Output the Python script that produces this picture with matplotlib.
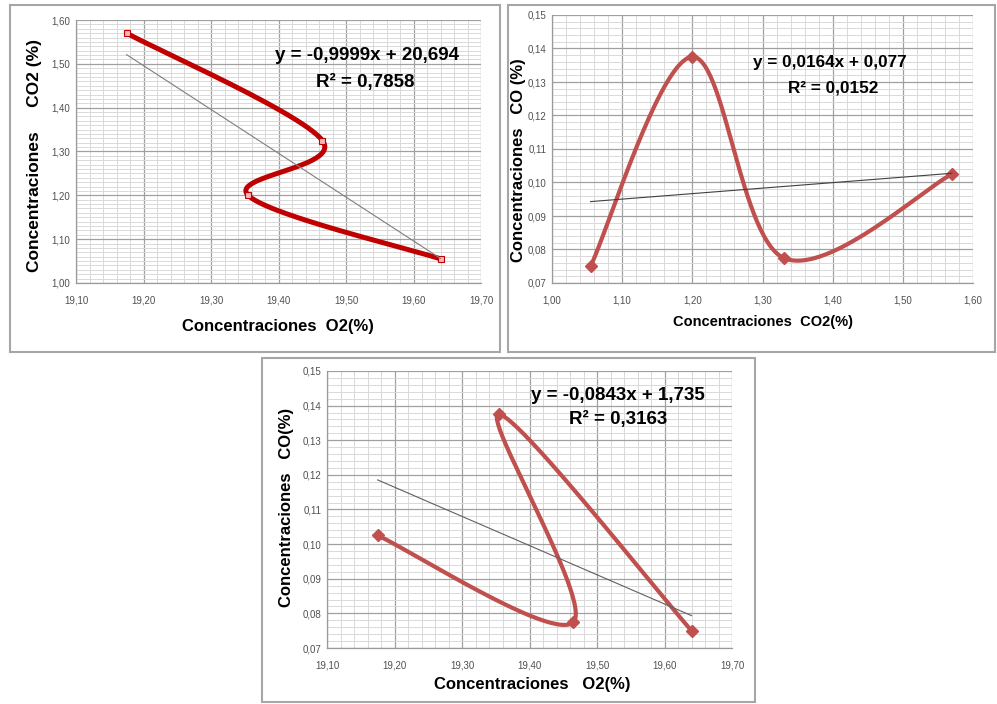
import matplotlib
matplotlib.use('Agg')
import matplotlib.pyplot as plt
from matplotlib.patches import Rectangle
from matplotlib.ticker import MultipleLocator, FuncFormatter
import numpy as np

# Measured values (same four samples in every panel)
o2 = [19.175, 19.465, 19.355, 19.64]
co2 = [1.57, 1.325, 1.20, 1.055]
co_by_o2 = [0.1025, 0.0775, 0.1375, 0.075]

co2_sorted = [1.055, 1.20, 1.33, 1.57]
co_sorted = [0.075, 0.1375, 0.0775, 0.1025]

# Trendline coefficients as shown on the chart
fit1 = (-0.9999, 20.694)
fit2 = (0.0164, 0.077)
fit3 = (-0.0843, 1.735)

eq1 = ["y = -0,9999x + 20,694", "R² = 0,7858"]
eq2 = ["y = 0,0164x + 0,077", "R² = 0,0152"]
eq3 = ["y = -0,0843x + 1,735", "R² = 0,3163"]

W, H = 997, 704
fig = plt.figure(figsize=(W / 100, H / 100), dpi=100)
fig.patch.set_facecolor('white')


def px_axes(l, t, r, b):
    return fig.add_axes([l / W, 1 - b / H, (r - l) / W, (b - t) / H])


def frame(l, t, r, b):
    fig.patches.append(Rectangle((l / W, 1 - b / H), (r - l) / W, (b - t) / H,
                                 transform=fig.transFigure, fill=False,
                                 edgecolor='#a6a6a6', linewidth=1.5))


def smooth(ax, xs, ys, n=60):
    # Excel-like smoothed line: Bezier segments built in screen space
    pts = ax.transData.transform(np.column_stack([xs, ys]))
    p = np.vstack([pts[0], pts, pts[-1]])
    out = []
    for i in range(1, len(p) - 2):
        p0, p1, p2, p3 = p[i - 1], p[i], p[i + 1], p[i + 2]
        c1 = p1 + (p2 - p0) / 6
        c2 = p2 - (p3 - p1) / 6
        t = np.linspace(0, 1, n)[:, None]
        seg = ((1 - t) ** 3 * p1 + 3 * (1 - t) ** 2 * t * c1
               + 3 * (1 - t) * t ** 2 * c2 + t ** 3 * p2)
        out.append(seg)
    out = np.vstack(out)
    return ax.transData.inverted().transform(out).T


def style(ax, xlim, ylim, xmaj, xmin, ymaj, ymin):
    ax.set_xlim(*xlim)
    ax.set_ylim(*ylim)
    ax.xaxis.set_major_locator(MultipleLocator(xmaj))
    ax.xaxis.set_minor_locator(MultipleLocator(xmin))
    ax.yaxis.set_major_locator(MultipleLocator(ymaj))
    ax.yaxis.set_minor_locator(MultipleLocator(ymin))
    fmt = FuncFormatter(lambda v, pos: f"{v:.2f}".replace('.', ','))
    ax.xaxis.set_major_formatter(fmt)
    ax.yaxis.set_major_formatter(fmt)
    ax.grid(which='major', color='#a0a0a0', linewidth=0.9)
    ax.grid(which='minor', color='#d9d9d9', linewidth=0.7)
    ax.set_axisbelow(True)
    for s in ['top', 'right']:
        ax.spines[s].set_visible(False)
    for s in ['left', 'bottom']:
        ax.spines[s].set_color('#9a9a9a')
        ax.spines[s].set_linewidth(0.9)
    ax.tick_params(which='both', length=0)
    ax.tick_params(axis='x', pad=9, labelsize=7, colors='#505050')
    ax.tick_params(axis='y', pad=4, labelsize=7, colors='#505050')
    for lab in ax.get_xticklabels() + ax.get_yticklabels():
        lab.set_family('Liberation Sans')


def label(x, y, s, rot=0, size=11):
    fig.text(x / W, 1 - y / H, s, rotation=rot, ha='center', va='center',
             fontsize=size, fontweight='bold', family='Liberation Sans')


frame(10, 5, 500, 352)
frame(508, 5, 995, 352)
frame(262, 358, 755, 702)

# Panel 1: O2 vs CO2
ax1 = px_axes(76, 20, 481, 283)
style(ax1, (19.10, 19.70), (1.00, 1.60), 0.10, 0.02, 0.10, 0.01)
sx, sy = smooth(ax1, o2, co2)
ax1.plot(sx, sy, color='#c00000', linewidth=3.6, solid_capstyle='round')
ax1.plot(o2, co2, linestyle='none', marker='s', markersize=4,
         markerfacecolor='#f4b8b8', markeredgecolor='#c00000', markeredgewidth=0.8)
tx = np.array([min(o2), max(o2)])
ax1.plot(tx, fit1[0] * tx + fit1[1], color='#7f7f7f', linewidth=0.8)
label(367, 55, eq1[0], size=13.5)
label(365, 82, eq1[1], size=13.5)
label(278, 327, "Concentraciones  O2(%)", size=12)
label(35, 156, "Concentraciones     CO2 (%)", rot=90, size=12.5)

# Panel 2: CO2 vs CO
ax2 = px_axes(552, 15, 973, 283)
style(ax2, (1.00, 1.60), (0.07, 0.15), 0.10, 0.02, 0.01, 0.002)
sx, sy = smooth(ax2, co2_sorted, co_sorted)
ax2.plot(sx, sy, color='#c0504d', linewidth=3, solid_capstyle='round')
ax2.plot(co2_sorted, co_sorted, linestyle='none', marker='D', markersize=6,
         color='#c0504d')
tx = np.array([min(co2_sorted), max(co2_sorted)])
ax2.plot(tx, fit2[0] * tx + fit2[1], color='#404040', linewidth=0.8)
label(830, 63, eq2[0], size=12.3)
label(833, 88, eq2[1], size=12.3)
label(763, 322, "Concentraciones  CO2(%)", size=10.5)
label(518, 160, "Concentraciones   CO (%)", rot=90, size=12)

# Panel 3: O2 vs CO
ax3 = px_axes(327, 371, 732, 648)
style(ax3, (19.10, 19.70), (0.07, 0.15), 0.10, 0.02, 0.01, 0.002)
sx, sy = smooth(ax3, o2, co_by_o2)
ax3.plot(sx, sy, color='#c0504d', linewidth=3, solid_capstyle='round')
ax3.plot(o2, co_by_o2, linestyle='none', marker='D', markersize=6,
         color='#c0504d')
tx = np.array([min(o2), max(o2)])
ax3.plot(tx, fit3[0] * tx + fit3[1], color='#606060', linewidth=0.8)
label(618, 396, eq3[0], size=13.5)
label(618, 419, eq3[1], size=13.5)
label(532, 685, "Concentraciones   O2(%)", size=12)
label(286, 507, "Concentraciones   CO(%)", rot=90, size=12)

fig.savefig('out.png', dpi=100, facecolor='white')
